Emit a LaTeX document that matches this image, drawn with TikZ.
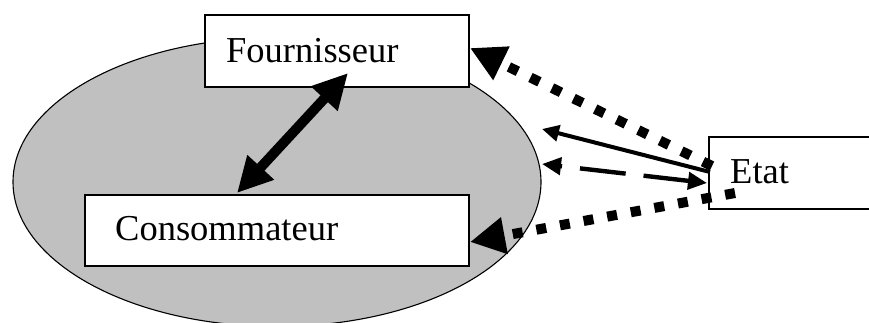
\documentclass[tikz,border=0pt]{standalone}
\usepackage{fontspec}
\setmainfont{Liberation Serif}
\usetikzlibrary{arrows.meta,shapes.geometric}
\definecolor{ellgray}{HTML}{C0C0C0}
\begin{document}
\begin{tikzpicture}[x=1pt,y=-1pt,
  box/.style={draw, line width=1.4pt, fill=white, inner sep=0pt, rectangle},
  lbl/.style={anchor=base west, inner sep=0pt, font=\fontsize{36.5}{40}\selectfont},
  dotarrow/.style={line width=10pt, dash pattern=on 10pt off 14pt, -{Triangle[length=35pt,width=35pt]}},
  dblarrow/.style={line width=10pt, {Triangle[length=35pt,width=34pt]}-{Triangle[length=35pt,width=34pt]}},
  solidarrow/.style={line width=4pt, -{Triangle[length=17pt,width=16pt]}},
  dasharrow/.style={line width=4.4pt, dash pattern=on 46pt off 18pt, {Triangle[length=19pt,width=17pt]}-{Triangle[length=19pt,width=17pt]}}]
\useasboundingbox (0,0) rectangle (869,322);
\clip (0,0) rectangle (869,322);
% ellipse
\node[ellipse, draw, line width=1.1pt, fill=ellgray, minimum width=528pt, minimum height=289pt, inner sep=0pt] (M) at (277,182) {};
% boxes
\node[box, minimum width=264pt, minimum height=72pt] (F) at (337,51) {};
\node[box, minimum width=384pt, minimum height=71pt] (C) at (277,230.5) {};
\node[box, minimum width=171pt, minimum height=72pt] (E) at (794.5,173) {};
\node[lbl] (Ft) at (226,62) {Fournisseur};
\node[lbl] (Ct) at (115,240) {Consommateur};
\node[lbl] (Et) at (730,183) {Etat};
% connector end points
\coordinate (fb) at (348,73);
\coordinate (ct) at (237,193);
\coordinate (f1) at (470,48);
\coordinate (c1) at (470,242);
\coordinate (e1) at (712,166);
\coordinate (e2) at (735,193);
\coordinate (e3) at (710,172);
\coordinate (m1) at (542,129);
\coordinate (e4) at (707,183);
\coordinate (m2) at (542,164);
% connectors
\draw[dblarrow] (ct) -- (fb);
\draw[dotarrow] (e1) -- (f1);
\draw[dotarrow] (e2) -- (c1);
\draw[solidarrow] (e3) -- (m1);
\draw[dasharrow] (e4) -- (m2);
\end{tikzpicture}
\end{document}
